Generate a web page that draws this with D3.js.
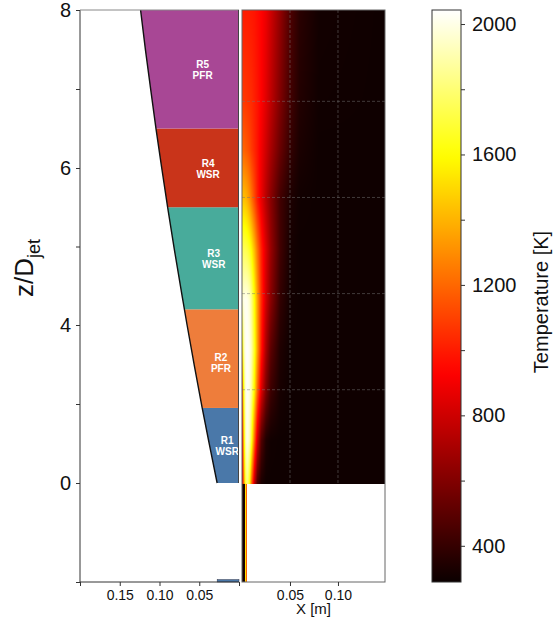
<!DOCTYPE html>
<html>
<head>
<meta charset="utf-8">
<script src="https://cdn.jsdelivr.net/npm/d3@7"></script>
<style>
  body { margin: 0; background: #fff; }
  svg text { font-family: "Liberation Sans", Arial, sans-serif; }
</style>
</head>
<body>
<svg id="chart" width="559" height="618"></svg>
<script>
// reactor network (left panel)
const regionNames = ["R1", "R2", "R3", "R4", "R5"];
const regionTypes = ["WSR", "PFR", "WSR", "WSR", "PFR"];
const regionBreaks = [0, 1.9, 4.2, 5.5, 6.5, 8];
const regionColors = ["#4a78a9", "#ee7d3b", "#48ab9b", "#c9341a", "#a84795"];

// jet boundary, z/D vs radius [m]
const boundaryZ = [0, 0.96, 1.92, 2.94, 4.0, 4.32, 4.96, 5.49, 6.0, 6.49, 6.99, 7.49, 8];
const boundaryR = [0.0275, 0.0371, 0.0465, 0.0559, 0.0653, 0.0707, 0.0813, 0.0896, 0.0972, 0.1043, 0.111, 0.1176, 0.1238];

// temperature field [K] (right panel), rows = heatZ [m], cols = heatX [m]
const heatX = [0, 0.002, 0.004, 0.006, 0.008, 0.010, 0.013, 0.016, 0.02, 0.025, 0.03, 0.04, 0.05, 0.06, 0.08, 0.15];
const heatZ = [0.002, 0.047, 0.099, 0.141, 0.193, 0.245, 0.297, 0.349, 0.401, 0.495];
const heatT = [
  [700, 1300, 1750, 1800, 1600, 1200, 750, 450, 330, 300, 300, 300, 300, 300, 300, 300],
  [800, 1500, 1950, 2000, 1900, 1650, 1200, 800, 480, 340, 305, 300, 300, 300, 300, 300],
  [1000, 1700, 2000, 2030, 1980, 1850, 1550, 1200, 850, 580, 420, 320, 300, 300, 300, 300],
  [1400, 1900, 2030, 2040, 2000, 1900, 1650, 1350, 1000, 700, 500, 340, 300, 300, 300, 300],
  [1950, 2000, 2020, 2000, 1950, 1830, 1600, 1350, 1050, 800, 620, 390, 310, 300, 300, 300],
  [1750, 1750, 1740, 1710, 1660, 1580, 1420, 1240, 1020, 830, 660, 430, 320, 300, 300, 300],
  [1450, 1440, 1420, 1380, 1320, 1240, 1120, 1000, 880, 740, 620, 430, 340, 305, 300, 300],
  [1200, 1190, 1170, 1150, 1120, 1080, 1030, 980, 900, 800, 700, 530, 400, 330, 300, 300],
  [1080, 1075, 1070, 1060, 1050, 1040, 1010, 980, 930, 850, 760, 590, 440, 350, 305, 300],
  [1000, 1000, 1000, 1000, 995, 990, 980, 960, 935, 880, 800, 640, 470, 370, 310, 300]
];
// fuel inlet pipe below z=0
const inletX = [0, 0.003, 0.0038, 0.0046, 0.0054];
const inletT = [300, 330, 1800, 1250, 800];

const leftTicks = [8, 7, 6, 5, 4, 2, 0, -2.5];
const leftTickLabels = [8, 6, 4, 0];
const rXTicks = [0.2, 0.15, 0.10, 0.05, 0];
const rXTickLabels = [0.15, 0.10, 0.05];
const xTicks = [0.05, 0.10];
const cbTicks = [400, 600, 800, 1000, 1200, 1400, 1600, 1800, 2000];
const cbTickLabels = [400, 800, 1200, 1600, 2000];
const tMin = 289, tMax = 2043;

const svg = d3.select("#chart");

// hot colormap (matplotlib)
function hot(f) {
  f = Math.max(0, Math.min(1, f));
  const r = 0.0416 + (1 - 0.0416) * Math.min(1, f / 0.365079);
  const g = Math.max(0, Math.min(1, (f - 0.365079) / (0.746032 - 0.365079)));
  const b = Math.max(0, Math.min(1, (f - 0.746032) / (1 - 0.746032)));
  return [Math.round(r * 255), Math.round(g * 255), Math.round(b * 255)];
}
const tNorm = d3.scaleLinear().domain([tMin, tMax]).range([0, 1]);

// ---------- left panel ----------
const xL = d3.scaleLinear().domain([0.2, 0]).range([80, 239]);
const zL = d3.scaleLinear().domain([-2.5, 0, 4, 6, 8]).range([582, 483, 325, 168, 10]);

const defs = svg.append("defs");
const bpts = boundaryZ.map((z, i) => [z, boundaryR[i]]);
const jetArea = d3.area()
  .y(d => zL(d[0]))
  .x0(xL(0))
  .x1(d => xL(d[1]))
  .curve(d3.curveMonotoneY);
defs.append("clipPath").attr("id", "jetClip")
  .append("path").attr("d", jetArea(bpts));

const left = svg.append("g");
left.append("g").attr("clip-path", "url(#jetClip)")
  .selectAll("rect").data(regionNames).join("rect")
  .attr("x", xL(0.2)).attr("width", xL(0) - xL(0.2))
  .attr("y", (d, i) => zL(regionBreaks[i + 1]))
  .attr("height", (d, i) => zL(regionBreaks[i]) - zL(regionBreaks[i + 1]))
  .attr("fill", (d, i) => regionColors[i]);

left.append("path")
  .attr("d", d3.line().y(d => zL(d[0])).x(d => xL(d[1])).curve(d3.curveMonotoneY)(bpts))
  .attr("fill", "none").attr("stroke", "#111").attr("stroke-width", 1.4);

// inlet bar at bottom
left.append("rect")
  .attr("x", xL(boundaryR[0])).attr("width", xL(0) - xL(boundaryR[0]))
  .attr("y", zL(-2.5) - 2.5).attr("height", 2.5)
  .attr("fill", regionColors[0]).attr("stroke", "#223").attr("stroke-width", 0.4);

const rAt = d3.scaleLinear().domain(boundaryZ).range(boundaryR);
const labels = left.selectAll("text.reg").data(regionNames).join("text")
  .attr("class", "reg")
  .attr("text-anchor", "middle")
  .attr("fill", "#fff").attr("font-weight", "bold").attr("font-size", 10)
  .attr("transform", (d, i) => {
    const zm = (regionBreaks[i] + regionBreaks[i + 1]) / 2;
    return `translate(${xL(rAt(zm) * 0.4)},${zL(zm)})`;
  });
labels.append("tspan").attr("x", 0).attr("dy", "-0.15em").text(d => d);
labels.append("tspan").attr("x", 0).attr("dy", "1.1em").text((d, i) => regionTypes[i]);

// spines
left.append("line").attr("x1", 80).attr("x2", 80).attr("y1", 10).attr("y2", 582).attr("stroke", "#333");
left.append("line").attr("x1", 80).attr("x2", 239).attr("y1", 582).attr("y2", 582).attr("stroke", "#333");
left.append("line").attr("x1", 80).attr("x2", 239).attr("y1", 10).attr("y2", 10).attr("stroke", "#888");
left.append("line").attr("x1", 238.5).attr("x2", 238.5).attr("y1", 10).attr("y2", zL(0)).attr("stroke", "#444");

const yAx = left.append("g").attr("transform", "translate(80,0)")
  .call(d3.axisLeft(zL).tickValues(leftTicks).tickSize(4).tickPadding(5)
    .tickFormat(d => leftTickLabels.includes(d) ? d : ""));
yAx.select(".domain").remove();
yAx.selectAll("text").attr("font-size", 20).attr("fill", "#111");
yAx.selectAll("line").attr("stroke", "#333");

const xAxL = left.append("g").attr("transform", "translate(0,582)")
  .call(d3.axisBottom(xL).tickValues(rXTicks).tickSize(4).tickPadding(4)
    .tickFormat(d => rXTickLabels.includes(d) ? d3.format(".2f")(d) : ""));
xAxL.select(".domain").remove();
xAxL.selectAll("text").attr("font-size", 14).attr("fill", "#111");
xAxL.selectAll("line").attr("stroke", "#333");

svg.append("text")
  .attr("transform", "translate(33,268) rotate(-90)")
  .attr("text-anchor", "middle").attr("font-size", 26).attr("fill", "#111")
  .call(t => {
    t.append("tspan").text("z/D");
    t.append("tspan").attr("dy", 7).attr("font-size", 18).text("jet");
  });

// ---------- right panel ----------
const xR = d3.scaleLinear().domain([0, 0.149]).range([242, 385]);
const yR = d3.scaleLinear().domain([-0.1, 0.495]).range([582, 10]);

const colIdx = d3.scaleLinear().domain(heatX).range(d3.range(heatX.length)).clamp(true);
const rowIdx = d3.scaleLinear().domain(heatZ).range(d3.range(heatZ.length)).clamp(true);

function fieldImage(x0, x1, y0, y1, valueAt) {
  const w = Math.round(x1 - x0), h = Math.round(y1 - y0);
  const cv = document.createElement("canvas");
  cv.width = w; cv.height = h;
  const ctx = cv.getContext("2d");
  const img = ctx.createImageData(w, h);
  for (let j = 0; j < h; j++) {
    for (let i = 0; i < w; i++) {
      const T = valueAt(xR.invert(x0 + i + 0.5), yR.invert(y0 + j + 0.5));
      const c = hot(tNorm(T));
      const k = (j * w + i) * 4;
      img.data[k] = c[0]; img.data[k + 1] = c[1]; img.data[k + 2] = c[2]; img.data[k + 3] = 255;
    }
  }
  ctx.putImageData(img, 0, 0);
  return { href: cv.toDataURL(), w, h };
}

function heatAt(x, z) {
  const ci = colIdx(x), ri = rowIdx(z);
  const c0 = Math.min(Math.floor(ci), heatX.length - 2), r0 = Math.min(Math.floor(ri), heatZ.length - 2);
  const fx = ci - c0, fz = ri - r0;
  const a = heatT[r0][c0] * (1 - fx) + heatT[r0][c0 + 1] * fx;
  const b = heatT[r0 + 1][c0] * (1 - fx) + heatT[r0 + 1][c0 + 1] * fx;
  return a * (1 - fz) + b * fz;
}
const inletAt = d3.scaleLinear().domain(inletX).range(inletT).clamp(true);

const right = svg.append("g");
const hm = fieldImage(xR(0), xR(0.149), yR(0.495), yR(heatZ[0]), heatAt);
right.append("image").attr("href", hm.href)
  .attr("x", xR(0)).attr("y", yR(0.495)).attr("width", hm.w).attr("height", hm.h)
  .attr("preserveAspectRatio", "none");
const inl = fieldImage(xR(0), xR(inletX[inletX.length - 1]), yR(heatZ[0]), yR(-0.1), (x) => inletAt(x));
right.append("image").attr("href", inl.href)
  .attr("x", xR(0)).attr("y", yR(heatZ[0])).attr("width", inl.w).attr("height", inl.h)
  .attr("preserveAspectRatio", "none");

// grid
const gridStyle = s => s.attr("stroke", "#777").attr("stroke-opacity", 0.55)
  .attr("stroke-width", 0.9).attr("stroke-dasharray", "3,2");
right.selectAll("line.vg").data(xTicks).join("line").attr("class", "vg")
  .attr("x1", d => xR(d)).attr("x2", d => xR(d))
  .attr("y1", yR(0.495)).attr("y2", yR(heatZ[0])).call(gridStyle);
right.selectAll("line.hg").data([0.1, 0.2, 0.3, 0.4]).join("line").attr("class", "hg")
  .attr("x1", xR(0)).attr("x2", xR(0.149))
  .attr("y1", d => yR(d)).attr("y2", d => yR(d)).call(gridStyle);

right.append("rect").attr("x", xR(0)).attr("y", 10)
  .attr("width", xR(0.149) - xR(0)).attr("height", 572)
  .attr("fill", "none").attr("stroke", "#666").attr("stroke-width", 1);

const xAxR = right.append("g").attr("transform", "translate(0,582)")
  .call(d3.axisBottom(xR).tickValues(xTicks).tickSize(4).tickPadding(4).tickFormat(d3.format(".2f")));
xAxR.select(".domain").remove();
xAxR.selectAll("text").attr("font-size", 14).attr("fill", "#111");
xAxR.selectAll("line").attr("stroke", "#333");
right.append("text").attr("x", (xR(0) + xR(0.149)) / 2).attr("y", 614)
  .attr("text-anchor", "middle").attr("font-size", 15).attr("fill", "#111").text("X [m]");

// ---------- colorbar ----------
const tS = d3.scaleLinear().domain([tMin, tMax]).range([582, 10]);
const grad = defs.append("linearGradient").attr("id", "cbGrad")
  .attr("x1", 0).attr("y1", 1).attr("x2", 0).attr("y2", 0);
grad.selectAll("stop").data(d3.range(0, 1.0001, 0.02)).join("stop")
  .attr("offset", d => d)
  .attr("stop-color", d => { const c = hot(d); return `rgb(${c[0]},${c[1]},${c[2]})`; });
svg.append("rect").attr("x", 432).attr("y", 10).attr("width", 29).attr("height", 572)
  .attr("fill", "url(#cbGrad)").attr("stroke", "#333").attr("stroke-width", 1);
const cbAx = svg.append("g").attr("transform", "translate(461,0)")
  .call(d3.axisRight(tS).tickValues(cbTicks).tickSize(4).tickPadding(7)
    .tickFormat(d => cbTickLabels.includes(d) ? d : ""));
cbAx.select(".domain").remove();
cbAx.selectAll("text").attr("font-size", 20).attr("fill", "#111");
cbAx.selectAll("line").attr("stroke", "#333");
svg.append("text").attr("transform", "translate(548,302) rotate(-90)")
  .attr("text-anchor", "middle").attr("font-size", 20).attr("fill", "#111")
  .text("Temperature [K]");
</script>
</body>
</html>
